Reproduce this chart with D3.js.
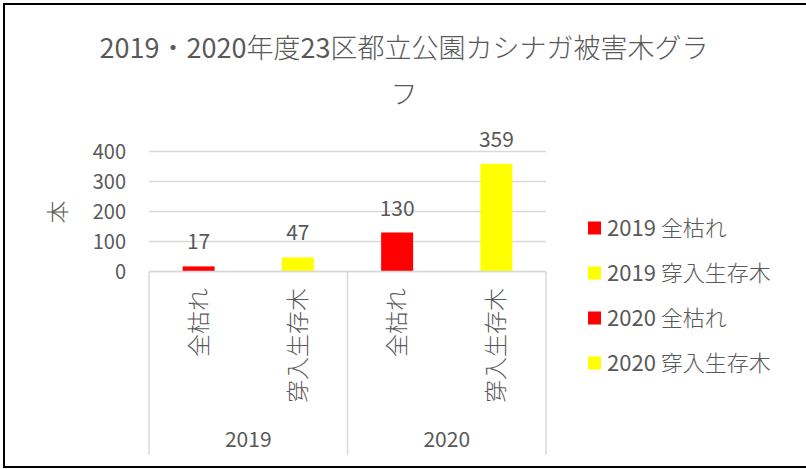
<!DOCTYPE html>
<html>
<head>
<meta charset="utf-8">
<script src="https://cdn.jsdelivr.net/npm/d3@7"></script>
<style>
    body { margin: 0; background: #fff; }
    svg text { font-family: "Noto Sans CJK JP", "Noto Sans", sans-serif; font-weight: 300; fill: #595959; }
    svg tspan.num, svg text.num { font-weight: 400; }
</style>
</head>
<body>
<div id="chart"></div>
<script>
// ============================================================================
// カシナガ被害木 - grouped category bar chart (year / type)
// ============================================================================

const TITLE_LINES = ['2019・2020年度23区都立公園カシナガ被害木グラ', 'フ'];
const years = ['2019', '2020'];
const types = ['全枯れ', '穿入生存木'];
const values2019 = [17, 47];
const values2020 = [130, 359];
const yTicks = [0, 100, 200, 300, 400];
const typeColors = ['#FF0000', '#FFFF00'];
const Y_TITLE = '本';

const width = 806, height = 469;
const plot = { left: 149, right: 546, top: 151.5, bottom: 271.5 };
const catBottom = 455;

const rows = [];
years.forEach((yr, i) => {
    const vals = i === 0 ? values2019 : values2020;
    types.forEach((t, j) => {
        rows.push({ key: yr + '|' + t, year: yr, type: t, value: vals[j], color: typeColors[j] });
    });
});

// digits render in regular weight, kana/kanji in light (like the Excel source)
function mixedText(sel, str) {
    const parts = String(str).match(/[0-9 ]+|[^0-9 ]+/g) || [];
    parts.forEach(p => {
        sel.append('tspan')
            .attr('class', /^[0-9 ]+$/.test(p) ? 'num' : null)
            .text(p);
    });
}

const svg = d3.select('#chart').append('svg')
    .attr('width', width).attr('height', height);

svg.append('rect').attr('width', width).attr('height', height).attr('fill', '#fff');

// Frame (only top / left / bottom visible in the source)
svg.append('path')
    .attr('d', `M${width},4 L4,4 L4,467 L${width},467`)
    .attr('fill', 'none')
    .attr('stroke', '#000')
    .attr('stroke-width', 2);

// Title
svg.selectAll('.title')
    .data(TITLE_LINES)
    .join('text')
    .attr('x', 404)
    .attr('y', (d, i) => 58 + i * 46)
    .attr('text-anchor', 'middle')
    .style('font-size', '27px')
    .each(function (d) { mixedText(d3.select(this), d); });

const xScale = d3.scaleBand()
    .domain(rows.map(d => d.key))
    .range([plot.left, plot.right]);

const yScale = d3.scaleLinear()
    .domain([0, 400])
    .range([plot.bottom, plot.top]);

const g = svg.append('g');

// Grid
g.selectAll('.grid')
    .data(yTicks)
    .join('line')
    .attr('x1', plot.left).attr('x2', plot.right)
    .attr('y1', d => yScale(d)).attr('y2', d => yScale(d))
    .attr('stroke', '#d9d9d9')
    .attr('stroke-width', 1.5);

// Y tick labels
g.selectAll('.ytick')
    .data(yTicks)
    .join('text')
    .attr('class', 'num')
    .attr('x', 126)
    .attr('y', d => yScale(d))
    .attr('dy', '0.35em')
    .attr('text-anchor', 'end')
    .style('font-size', '20px')
    .text(d => d);

// Y title
svg.append('text')
    .attr('transform', 'translate(58,212) rotate(-90)')
    .attr('dy', '0.35em')
    .attr('text-anchor', 'middle')
    .style('font-size', '23px')
    .text(Y_TITLE);

// Bars
const barWidth = 32;
g.selectAll('.bar')
    .data(rows)
    .join('rect')
    .attr('x', d => xScale(d.key) + xScale.bandwidth() / 2 - barWidth / 2)
    .attr('y', d => yScale(d.value))
    .attr('width', barWidth)
    .attr('height', d => yScale(0) - yScale(d.value))
    .attr('fill', d => d.color);

// Data labels
g.selectAll('.dlabel')
    .data(rows)
    .join('text')
    .attr('class', 'num')
    .attr('x', d => xScale(d.key) + xScale.bandwidth() / 2)
    .attr('y', d => yScale(d.value) - 17)
    .attr('text-anchor', 'middle')
    .style('font-size', '21px')
    .text(d => d.value);

// Category axis: baseline + group separators
g.append('line')
    .attr('x1', plot.left).attr('x2', plot.right)
    .attr('y1', yScale(0)).attr('y2', yScale(0))
    .attr('stroke', '#d9d9d9').attr('stroke-width', 1.5);

const groupX = [plot.left];
years.forEach(yr => groupX.push(xScale(yr + '|' + types[types.length - 1]) + xScale.bandwidth()));
g.selectAll('.sep')
    .data(groupX)
    .join('line')
    .attr('x1', d => d).attr('x2', d => d)
    .attr('y1', yScale(0)).attr('y2', catBottom)
    .attr('stroke', '#d9d9d9').attr('stroke-width', 1.5);

// Inner category labels (rotated)
g.selectAll('.clabel')
    .data(rows)
    .join('text')
    .attr('transform', d => `translate(${xScale(d.key) + xScale.bandwidth() / 2},288) rotate(-90)`)
    .attr('dy', '0.35em')
    .attr('text-anchor', 'end')
    .style('font-size', '23px')
    .text(d => d.type);

// Outer year labels
g.selectAll('.ylabel')
    .data(years)
    .join('text')
    .attr('class', 'num')
    .attr('x', d => (xScale(d + '|' + types[0]) + xScale(d + '|' + types[1]) + xScale.bandwidth()) / 2)
    .attr('y', 447)
    .attr('text-anchor', 'middle')
    .style('font-size', '21px')
    .text(d => d);

// Legend
const legend = svg.append('g');
legend.selectAll('rect')
    .data(rows)
    .join('rect')
    .attr('x', 588)
    .attr('y', (d, i) => 228 + i * 45 - 6.5)
    .attr('width', 13).attr('height', 13)
    .attr('fill', d => d.color);

legend.selectAll('text')
    .data(rows)
    .join('text')
    .attr('x', 607)
    .attr('y', (d, i) => 228 + i * 45)
    .attr('dy', '0.35em')
    .style('font-size', '22px')
    .each(function (d) { mixedText(d3.select(this), d.year + ' ' + d.type); });
</script>
</body>
</html>
